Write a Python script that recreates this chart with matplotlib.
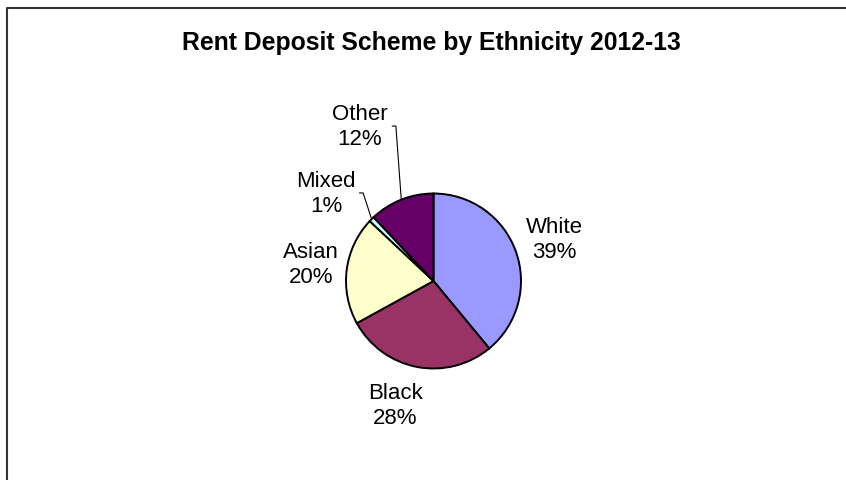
import numpy as np
import matplotlib
matplotlib.use("Agg")
import matplotlib.pyplot as plt
from matplotlib.lines import Line2D

plt.rcParams['font.family'] = ['Liberation Sans', 'DejaVu Sans']

# rent deposit scheme, share by ethnicity (%)
groups = ["White", "Black", "Asian", "Mixed", "Other"]
shares = [39, 28, 20, 1, 12]
colors = ["#9999FF", "#993366", "#FFFFCC", "#CCFFFF", "#660066"]

# label anchor (x, y) in pie-radius units, and which labels get a leader line
label_pos = [(1.377, 0.48), (-0.44, -1.417), (-1.40, 0.194), (-1.229, 1.006), (-0.84, 1.771)]
leader = [False, False, False, True, True]
leader_gap = [0, 0, 0, 0.385, 0.37]

W, H = 846, 481
cx, cy, r = 433.5, 282, 87.5

fig = plt.figure(figsize=(W / 100, H / 100), dpi=100)
fig.patch.set_facecolor("white")

# axes spanning the figure, one data unit = one pie radius
ax = fig.add_axes([0, 0, 1, 1])
ax.axis("off")

wedges, _ = ax.pie(shares, colors=colors, startangle=90, counterclock=False,
                   radius=1, center=(0, 0),
                   wedgeprops=dict(edgecolor="black", linewidth=1.4))
ax.set_xlim(-cx / r, (W - cx) / r)
ax.set_ylim((cy - H) / r, cy / r)
ax.set_aspect("auto")

total = sum(shares)
for w, name, val, (lx, ly), lead, gap in zip(wedges, groups, shares, label_pos, leader, leader_gap):
    ax.text(lx, ly, f"{name}\n{round(val / total * 100)}%", ha="center", va="center",
            fontsize=16, linespacing=1.25, color="black")
    if lead:
        mid = np.deg2rad((w.theta1 + w.theta2) / 2)
        ex, ey = np.cos(mid), np.sin(mid)
        sx = lx + gap
        ax.plot([sx, sx + 0.04, ex], [ly, ly, ey], color="black", lw=0.8,
                solid_joinstyle="miter")

fig.text(431 / W, 1 - 50 / H, "Rent Deposit Scheme by Ethnicity 2012-13",
         ha="center", va="baseline", fontsize=17.8, fontweight="bold")

# chart frame (left and top edges)
fig.add_artist(Line2D([7 / W, 7 / W, 1.01], [-0.01, 1 - 8.5 / H, 1 - 8.5 / H],
                      transform=fig.transFigure, color="#333333", lw=1.5))

fig.savefig("out.png", dpi=100)
